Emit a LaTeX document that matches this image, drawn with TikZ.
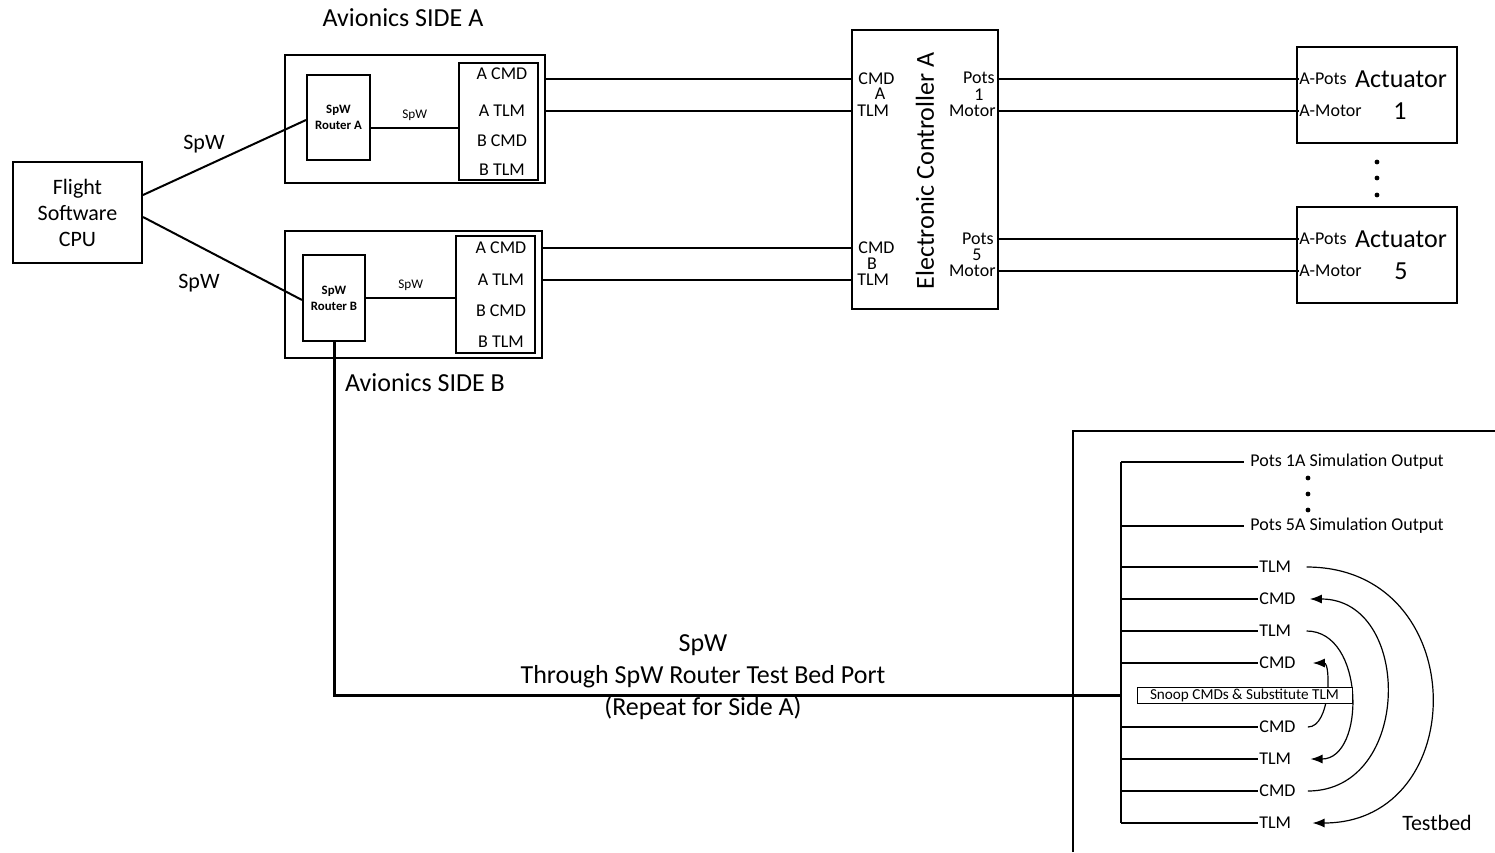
\documentclass[tikz,border=0pt]{standalone}
\usepackage{fontspec}
\setmainfont{Carlito}
\usetikzlibrary{arrows.meta, calc}

\begin{document}
\begin{tikzpicture}
    [
        x=0.5pt, y=-0.5pt,
        block/.style={draw, rectangle, line width=1pt, inner sep=0pt},
        wire/.style={line width=1pt},
        thinwire/.style={line width=0.6pt},
        busline/.style={line width=1.5pt},
        loop/.style={line width=0.6pt, -{Latex[length=6pt, width=4.5pt]}},
        bigtext/.style={font=\fontsize{13}{16}\selectfont},
        midtext/.style={font=\fontsize{11}{13}\selectfont},
        porttext/.style={font=\fontsize{9}{10}\selectfont, inner sep=0pt},
        tinytext/.style={font=\fontsize{6.6}{8}\selectfont},
        routertext/.style={font=\fontsize{6.4}{8}\selectfont\bfseries, align=center}
    ]
        \useasboundingbox (0,0) rectangle (1495,852);
        % =========================================================================
        % NODES
        % =========================================================================
        % --- Flight software ---
        \node [block, minimum width=64.5pt, minimum height=50.5pt, midtext, align=center] (cpu) at (77.5,212.5) {Flight\\Software\\CPU};
        \node [midtext] (spwCpuA) at (204,144) {SpW};
        \node [midtext] (spwCpuB) at (199,283) {SpW};
        % --- Avionics side A ---
        \node [bigtext] (titleA) at (403,18) {Avionics SIDE A};
        \node [block, minimum width=130pt, minimum height=64pt] (avA) at (415,119) {};
        \node [block, minimum width=31.5pt, minimum height=42.5pt, routertext] (rtrA) at (338.5,117.5) {SpW\\Router A};
        \node [block, line width=0.7pt, minimum width=39.5pt, minimum height=58.5pt] (portA) at (498.5,121.5) {};
        \node [porttext] (aCmdA) at (502,74) {A CMD};
        \node [porttext] (aTlmA) at (502,111) {A TLM};
        \node [porttext] (bCmdA) at (502,141) {B CMD};
        \node [porttext] (bTlmA) at (502,170) {B TLM};
        % --- Avionics side B ---
        \node [bigtext] (titleB) at (425,383) {Avionics SIDE B};
        \node [block, minimum width=128.5pt, minimum height=63.5pt] (avB) at (413.5,294.5) {};
        \node [block, minimum width=31pt, minimum height=43pt, routertext] (rtrB) at (334,298) {SpW\\Router B};
        \node [block, line width=0.7pt, minimum width=39.5pt, minimum height=58.5pt] (portB) at (495.5,294.5) {};
        \node [porttext] (aCmdB) at (501,248) {A CMD};
        \node [porttext] (aTlmB) at (501,280) {A TLM};
        \node [porttext] (bCmdB) at (501,311) {B CMD};
        \node [porttext] (bTlmB) at (501,342) {B TLM};
        % --- Electronic controller ---
        \node [block, minimum width=73pt, minimum height=139.5pt] (ec) at (925,169.5) {};
        \node [bigtext, rotate=90] (ecTitle) at (925,171) {Electronic Controller A};
        \node [porttext, anchor=west] (ecCmdA) at (858,79) {CMD};
        \node [porttext] (ecA) at (880,94) {A};
        \node [porttext, anchor=west] (ecTlmA) at (857,111) {TLM};
        \node [porttext, anchor=west] (ecCmdB) at (858,248) {CMD};
        \node [porttext] (ecB) at (872,264) {B};
        \node [porttext, anchor=west] (ecTlmB) at (857,280) {TLM};
        \node [porttext, anchor=east] (ecPots1) at (995,78) {Pots};
        \node [porttext] (ecOne) at (979,95) {1};
        \node [porttext, anchor=east] (ecMotor1) at (996,111) {Motor};
        \node [porttext, anchor=east] (ecPots5) at (994,239) {Pots};
        \node [porttext] (ecFive) at (977,255) {5};
        \node [porttext, anchor=east] (ecMotor5) at (996,271) {Motor};
        % --- Actuators ---
        \node [block, minimum width=80pt, minimum height=48pt] (act1) at (1377,95) {};
        \node [porttext, anchor=west] (act1Pots) at (1299,79) {A-Pots};
        \node [porttext, anchor=west] (act1Motor) at (1299,111) {A-Motor};
        \node [bigtext] (act1Name) at (1401,79) {Actuator};
        \node [bigtext] (act1Num) at (1400,111) {1};
        \node [block, minimum width=80pt, minimum height=48pt] (act5) at (1377,255) {};
        \node [porttext, anchor=west] (act5Pots) at (1299,239) {A-Pots};
        \node [porttext, anchor=west] (act5Motor) at (1299,271) {A-Motor};
        \node [bigtext] (act5Name) at (1401,239) {Actuator};
        \node [bigtext] (act5Num) at (1401,271) {5};
        \foreach \y in {162,178,195}
            \fill (1377,\y) circle (1.2pt);
        % --- Testbed ---
        \node [bigtext, align=center] (tbPort) at (703,677) {SpW\\Through SpW Router Test Bed Port\\(Repeat for Side A)};
        \node [midtext] (testbed) at (1437,823) {Testbed};
        \coordinate (busTop) at (1121,462);
        \coordinate (busMid) at (1121,695);
        \coordinate (busBot) at (1121,823);
        \node [porttext, anchor=west] (pots1A) at (1250,462) {Pots 1A Simulation Output};
        \node [porttext, anchor=west] (pots5A) at (1250,526) {Pots 5A Simulation Output};
        \foreach \y in {478,494,510}
            \fill (1308,\y) circle (1.2pt);
        \foreach \n/\y/\t in {tA/567/TLM, cA/599/CMD, tB/631/TLM, cB/663/CMD, cC/727/CMD, tC/759/TLM, cD/791/CMD, tD/823/TLM}
        {
            \node [porttext, anchor=west, inner xsep=0.5pt] (\n) at (1258,\y) {\t};
            \draw [wire] (busTop |- \n) -- (\n.west);
        }

        % =========================================================================
        % PATHS
        % =========================================================================
        % --- SpW links ---
        \draw [wire] ([yshift=8.75pt]cpu.east) -- ([yshift=-1.25pt]rtrA.west);
        \draw [wire] ([yshift=-2.25pt]cpu.east) -- ([yshift=-1pt]rtrB.west);
        \coordinate (spwA) at ([yshift=-5.25pt]rtrA.east);
        \draw [thinwire] (spwA) -- (spwA -| portA.west) node [midway, above=0pt, tinytext] (spwInA) {SpW};
        \draw [thinwire] (rtrB.east) -- (rtrB.east -| portB.west) node [midway, above=0pt, tinytext] (spwInB) {SpW};
        % --- Avionics to controller ---
        \draw [wire] (avA.east |- ecCmdA) -- (ec.west |- ecCmdA);
        \draw [wire] (avA.east |- ecTlmA) -- (ec.west |- ecTlmA);
        \draw [wire] (avB.east |- ecCmdB) -- (ec.west |- ecCmdB);
        \draw [wire] (avB.east |- ecTlmB) -- (ec.west |- ecTlmB);
        % --- Controller to actuators ---
        \draw [wire] (ec.east |- act1Pots) -- (act1Pots.west);
        \draw [wire] (ec.east |- act1Motor) -- (act1Motor.west);
        \draw [wire] (ec.east |- act5Pots) -- (act5Pots.west);
        \draw [wire] (ec.east |- act5Motor) -- (act5Motor.west);
        % --- Test bed port ---
        \draw [busline] (rtrB.south) |- (busMid);
        \draw [wire] (1073,852) |- (1495,431);
        \draw [wire] (busTop) -- (busBot);
        \draw [wire] (busTop |- pots1A) -- ([xshift=-3pt]pots1A.west);
        \draw [wire] (busTop |- pots5A) -- ([xshift=-3pt]pots5A.west);
        % --- Snoop loops ---
        \draw [loop, shorten <=7pt, shorten >=10pt] (tA.east) .. controls +(180,0) and +(180,0) .. (tD.east);
        \draw [loop, shorten <=5.5pt, shorten >=6.5pt] (cD.east) .. controls +(116,0) and +(116,0) .. (cA.east);
        \draw [loop, shorten <=7pt, shorten >=9pt] (tB.east) .. controls +(73,0) and +(73,0) .. (tC.east);
        \draw [loop, shorten <=5.5pt, shorten >=8pt] (cC.east) .. controls +(34,0) and +(34,0) .. (cB.east);
        \node [draw, fill=white, line width=0.5pt, minimum width=107.5pt, minimum height=8pt, inner sep=0pt, font=\fontsize{7.6}{8}\selectfont] (snoop) at (1244.5,695) {Snoop CMDs \& Substitute TLM};
\end{tikzpicture}
\end{document}
